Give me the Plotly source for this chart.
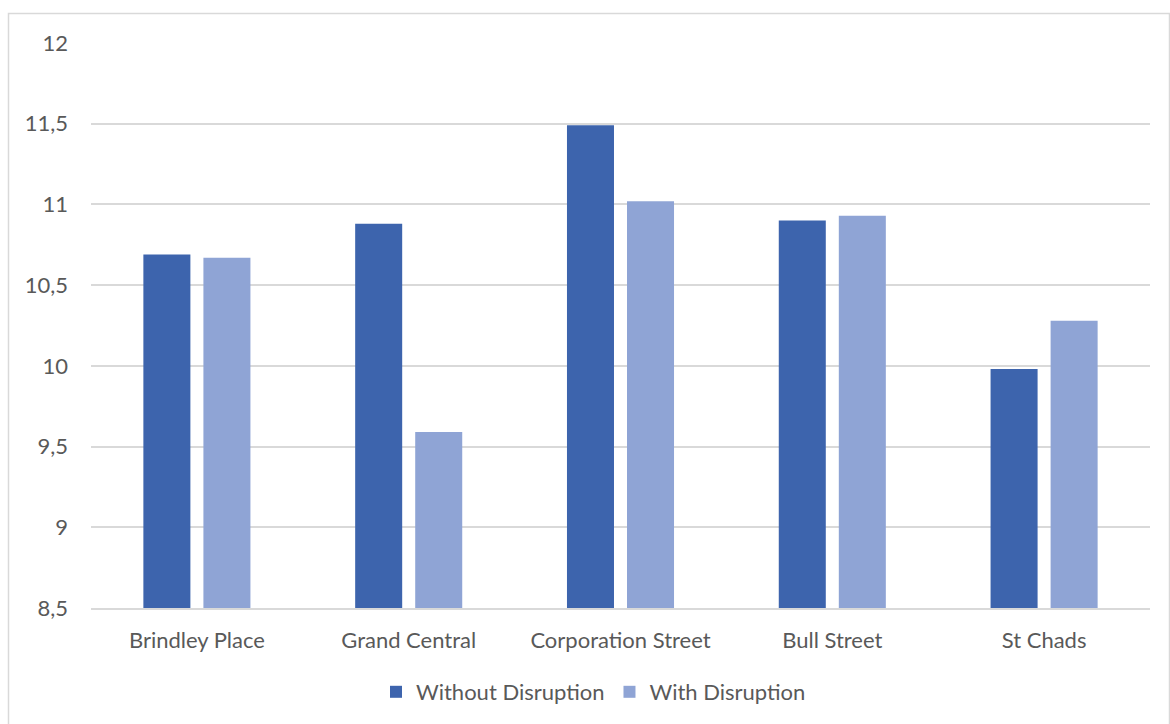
import plotly.graph_objects as go

# Journey times by stop, with and without disruption
stops = ["Brindley Place", "Grand Central", "Corporation Street", "Bull Street", "St Chads"]
without_disruption = [10.69, 10.88, 11.49, 10.90, 9.98]
with_disruption = [10.67, 9.59, 11.02, 10.93, 10.28]
y_ticks = [8.5, 9, 9.5, 10, 10.5, 11, 11.5, 12]

W, H = 1170, 724
L, R, T, B = 91, 20, 43, 115
pw, ph = W - L - R, H - T - B

font_family = "Lato, 'Open Sans', sans-serif"
text_color = "#595959"
fs = 22

fig = go.Figure()
fig.add_trace(go.Bar(name="Without Disruption", x=stops, y=without_disruption,
                     marker=dict(color="#3d64ad", line=dict(width=0))))
fig.add_trace(go.Bar(name="With Disruption", x=stops, y=with_disruption,
                     marker=dict(color="#8fa4d5", line=dict(width=0))))


def px_x(p):
    return (p - L) / pw


def px_y(p):
    return (H - B - p) / ph


# Thin frame around the chart area
fig.add_shape(type="rect", xref="paper", yref="paper",
              x0=px_x(8.5), x1=px_x(1169.5), y0=px_y(740), y1=px_y(13.5),
              line=dict(color="#d9d9d9", width=1.5), fillcolor="rgba(0,0,0,0)",
              layer="below")

fig.update_layout(
    width=W, height=H,
    margin=dict(l=L, r=R, t=T, b=B),
    paper_bgcolor="white", plot_bgcolor="white",
    separators=",.",
    barmode="group", bargap=0.433, bargroupgap=0.217,
    font=dict(family=font_family, size=fs, color=text_color),
    showlegend=True,
    legend=dict(orientation="h", x=0.4745, xanchor="center", y=px_y(692), yanchor="middle",
                font=dict(size=fs, color=text_color), itemwidth=30,
                traceorder="normal"),
    xaxis=dict(showgrid=False, showline=True, linecolor="#d9d9d9", linewidth=1.5,
               ticks="", ticklabelstandoff=12, tickfont=dict(size=fs, color=text_color)),
    yaxis=dict(range=[8.5, 12], tickvals=y_ticks, showgrid=True, gridcolor="#d9d9d9",
               gridwidth=1.5, zeroline=False, showline=False, ticks="",
               ticklabelstandoff=22, tickfont=dict(size=fs, color=text_color)),
)

fig.write_html("out.html")
